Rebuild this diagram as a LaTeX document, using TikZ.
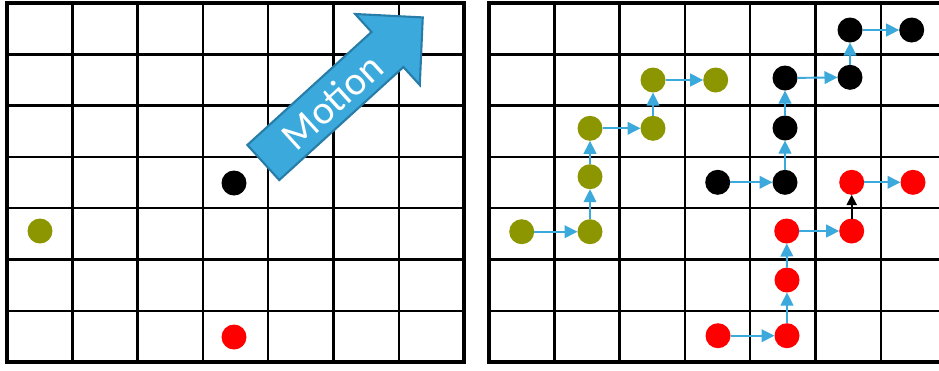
\documentclass[tikz,border=0pt]{standalone}
\usepackage{fontspec}
\newfontfamily\motionfont{Carlito}
\usetikzlibrary{arrows.meta}
\definecolor{olivedot}{RGB}{140,150,0}
\definecolor{flowblue}{RGB}{59,169,219}
\definecolor{flowedge}{RGB}{40,125,168}

\begin{document}
\begin{tikzpicture}[x=0.02cm, y=-0.02cm,
    cell/.style={line width=1.4pt},
    frame/.style={line width=2pt},
    dot/.style={circle, inner sep=0pt, outer sep=0pt, minimum size=0.5cm},
    oldot/.style={dot, fill=olivedot},
    bkdot/.style={dot, fill=black},
    rddot/.style={dot, fill=red},
    move/.style={-{Triangle[length=7.4pt, width=7.2pt]}, flowblue, line width=1.1pt},
    push/.style={-{Triangle[length=5.8pt, width=5.8pt]}, black, line width=0.9pt}
]
    \clip (0,0) rectangle (939,370);

    % grids
    \foreach \k in {1,...,6} {
        \draw[cell] ({7+65.29*\k},3) -- ({7+65.29*\k},362);
        \draw[cell] (7,{3+51.29*\k}) -- (464,{3+51.29*\k});
        \draw[cell] ({489+65.29*\k},3) -- ({489+65.29*\k},362);
        \draw[cell] (489,{3+51.29*\k}) -- (946,{3+51.29*\k});
    }
    \draw[frame] (7,3) rectangle (464,362);
    \draw[frame] (489,3) rectangle (946,362);

    % motion arrow
    \begin{scope}[shift={(263.3,162.5)}, rotate=42.3]
        \filldraw[fill=flowblue, draw=flowedge, line width=1.2pt]
            (0,-23.7) -- (167.9,-23.7) -- (167.9,-48) -- (215.6,0)
            -- (167.9,48) -- (167.9,23.7) -- (0,23.7) -- cycle;
        \node[transform shape, text=white, inner sep=0pt,
              font=\motionfont\fontsize{23}{26}\selectfont] (motion) at (92,1) {Motion};
    \end{scope}

    % start positions
    \node[oldot] (o0) at (40,231) {};
    \node[bkdot] (k0) at (234,183) {};
    \node[rddot] (r0) at (234,337) {};

    % olive path
    \node[oldot] (o1) at (521.7,231.7) {};
    \node[oldot] (o2) at (590,231.7) {};
    \node[oldot] (o3) at (590,176.7) {};
    \node[oldot] (o4) at (590,128.3) {};
    \node[oldot] (o5) at (653,128.3) {};
    \node[oldot] (o6) at (653,80) {};
    \node[oldot] (o7) at (715.7,80) {};

    % black path
    \node[bkdot] (k1) at (717.7,182.3) {};
    \node[bkdot] (k2) at (785,182.3) {};
    \node[bkdot] (k3) at (785,128) {};
    \node[bkdot] (k4) at (785,78) {};
    \node[bkdot] (k5) at (850,77.3) {};
    \node[bkdot] (k6) at (850,30) {};
    \node[bkdot] (k7) at (911.7,30) {};

    % red path
    \node[rddot] (r1) at (718,335.7) {};
    \node[rddot] (r2) at (787,335.7) {};
    \node[rddot] (r3) at (787,280) {};
    \node[rddot] (r4) at (786.7,231) {};
    \node[rddot] (r5) at (851.7,231) {};
    \node[rddot] (r6) at (851.7,182.3) {};
    \node[rddot] (r7) at (913,182.3) {};

    \draw[move] (o1) -- (o2);
    \draw[move] (o2) -- (o3);
    \draw[move] (o3) -- (o4);
    \draw[move] (o4) -- (o5);
    \draw[move] (o5) -- (o6);
    \draw[move] (o6) -- (o7);

    \draw[move] (k1) -- (k2);
    \draw[move] (k2) -- (k3);
    \draw[move] (k3) -- (k4);
    \draw[move] (k4) -- (k5);
    \draw[move] (k5) -- (k6);
    \draw[move] (k6) -- (k7);

    \draw[move] (r1) -- (r2);
    \draw[move] (r2) -- (r3);
    \draw[move] (r3) -- (r4);
    \draw[move] (r4) -- (r5);
    \draw[push] (r5) -- (r6);
    \draw[move] (r6) -- (r7);
\end{tikzpicture}
\end{document}
